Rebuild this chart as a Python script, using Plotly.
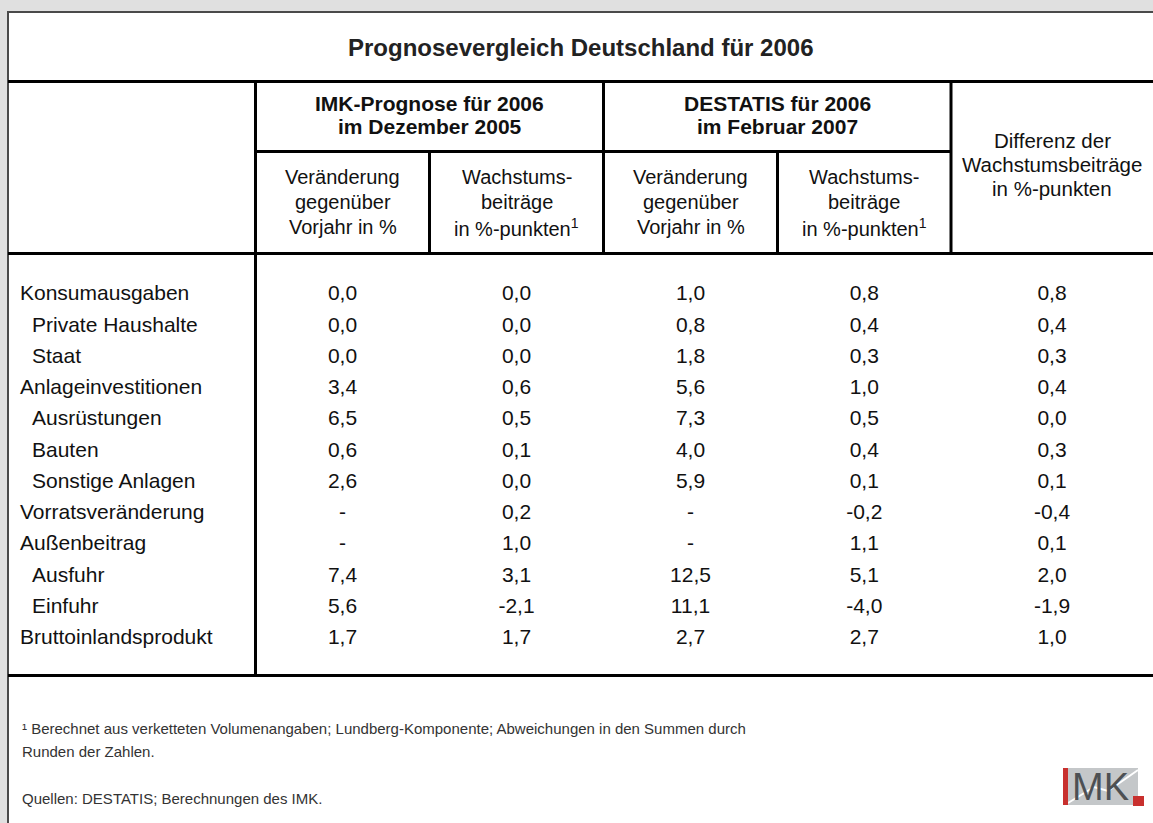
import plotly.graph_objects as go

W, H = 1153, 823

# ---- table content ----
title = "Prognosevergleich Deutschland für 2006"
group_heads = [["IMK-Prognose für 2006", "im Dezember 2005"],
               ["DESTATIS für 2006", "im Februar 2007"]]
change_head = ["Veränderung", "gegenüber", "Vorjahr in %"]
contrib_head = ["Wachstums-", "beiträge", "in %-punkten<sup>1</sup>"]
diff_head = ["Differenz der", "Wachstumsbeiträge", "in %-punkten"]

labels = ["Konsumausgaben", "Private Haushalte", "Staat", "Anlageinvestitionen",
          "Ausrüstungen", "Bauten", "Sonstige Anlagen", "Vorratsveränderung",
          "Außenbeitrag", "Ausfuhr", "Einfuhr", "Bruttoinlandsprodukt"]
indent = [0, 1, 1, 0, 1, 1, 1, 0, 0, 1, 1, 0]

imk_change = [0.0, 0.0, 0.0, 3.4, 6.5, 0.6, 2.6, None, None, 7.4, 5.6, 1.7]
imk_contrib = [0.0, 0.0, 0.0, 0.6, 0.5, 0.1, 0.0, 0.2, 1.0, 3.1, -2.1, 1.7]
destatis_change = [1.0, 0.8, 1.8, 5.6, 7.3, 4.0, 5.9, None, None, 12.5, 11.1, 2.7]
destatis_contrib = [0.8, 0.4, 0.3, 1.0, 0.5, 0.4, 0.1, -0.2, 1.1, 5.1, -4.0, 2.7]
diff_contrib = [0.8, 0.4, 0.3, 0.4, 0.0, 0.3, 0.1, -0.4, 0.1, 2.0, -1.9, 1.0]

footnote = ["¹ Berechnet aus verketteten Volumenangaben; Lundberg-Komponente; "
            "Abweichungen in den Summen durch", "Runden der Zahlen."]
source = "Quellen: DESTATIS; Berechnungen des IMK."


def fmt(v):
    # German decimal comma, dash for missing
    return "-" if v is None else f"{v:.1f}".replace(".", ",")


# ---- geometry (pixels) ----
FONT = "Liberation Sans, Arial, sans-serif"
left, top = 8, 12
y_title_line, y_group_line, y_head_line, y_foot_line = 81.5, 151.5, 253.5, 675.5
col_edges = [255.5, 429.5, 603.5, 777.5, 951, 1153]
col_mid = [(a + b) / 2 for a, b in zip(col_edges[:-1], col_edges[1:])]
row0, pitch = 295, 31.27
row_y = [row0 + i * pitch for i in range(len(labels))]

fig = go.Figure()

# row labels
fig.add_trace(go.Scatter(
    x=[20 + 12 * d for d in indent], y=row_y, mode="text", text=labels,
    textposition="middle right", textfont=dict(family=FONT, size=21, color="#111"),
    hoverinfo="skip", showlegend=False))

# value columns
columns = [imk_change, imk_contrib, destatis_change, destatis_contrib, diff_contrib]
for cx, vals in zip(col_mid, columns):
    fig.add_trace(go.Scatter(
        x=[cx] * len(vals), y=row_y, mode="text", text=[fmt(v) for v in vals],
        textposition="middle center", textfont=dict(family=FONT, size=21, color="#111"),
        hoverinfo="skip", showlegend=False))

# ---- grid lines ----
shapes = [dict(type="rect", x0=left, y0=top, x1=W + 10, y1=H + 10, layer="below",
               fillcolor="white", line=dict(color="#4a4a4a", width=2))]
blk = dict(color="black", width=3)
for y in (y_title_line, y_head_line, y_foot_line):
    shapes.append(dict(type="line", x0=left, x1=W, y0=y, y1=y, line=blk))
shapes.append(dict(type="line", x0=col_edges[0], x1=col_edges[0],
                   y0=y_title_line, y1=y_foot_line, line=blk))
for x in (col_edges[2], col_edges[4]):
    shapes.append(dict(type="line", x0=x, x1=x, y0=y_title_line, y1=y_head_line, line=blk))
shapes.append(dict(type="line", x0=col_edges[0], x1=col_edges[4],
                   y0=y_group_line, y1=y_group_line, line=blk))
for x in (col_edges[1], col_edges[3]):
    shapes.append(dict(type="line", x0=x, x1=x, y0=y_group_line, y1=y_head_line, line=blk))

# IMK logo
shapes += [
    dict(type="rect", x0=1067, x1=1138, y0=768, y1=805, fillcolor="#c4c7c9", line_width=0),
    dict(type="path", path="M 1068 803 L 1094 787 L 1108 791 L 1138 770",
         line=dict(color="white", width=2)),
    dict(type="rect", x0=1063, x1=1068, y0=768, y1=805, fillcolor="#c8302e", line_width=0),
    dict(type="rect", x0=1133, x1=1144, y0=796, y1=806, fillcolor="#c8302e", line_width=0),
]

# ---- header / footer text ----
ann = [dict(x=(left + W) / 2, y=47, text=f"<b>{title}</b>",
            font=dict(family=FONT, size=24, color="#222"))]
for cx, lines in zip((col_edges[1], col_edges[3]), group_heads):
    for y, t in zip((103, 126), lines):
        ann.append(dict(x=cx, y=y, text=f"<b>{t}</b>", font=dict(family=FONT, size=21, color="#111")))
for i, lines in enumerate([change_head, contrib_head, change_head, contrib_head]):
    for y, t in zip((177, 202, 227), lines):
        ann.append(dict(x=col_mid[i], y=y, text=t, font=dict(family=FONT, size=20, color="#111")))
for y, t in zip((140, 164, 188), diff_head):
    ann.append(dict(x=col_mid[4], y=y, text=t, font=dict(family=FONT, size=20.5, color="#111")))
for y, t in zip((728, 751), footnote):
    ann.append(dict(x=20, y=y, text=t, xanchor="left", font=dict(family=FONT, size=15, color="#333")))
ann.append(dict(x=20, y=798, text=source, xanchor="left",
                font=dict(family=FONT, size=15, color="#333")))
ann.append(dict(x=1100, y=787, text="MK",
                font=dict(family="Liberation Sans Narrow, Liberation Sans", size=38, color="#4d5053")))
for a in ann:
    a.setdefault("xanchor", "center")
    a.update(xref="x", yref="y", yanchor="middle", showarrow=False)

fig.update_layout(
    width=W, height=H, margin=dict(l=0, r=0, t=0, b=0),
    paper_bgcolor="#e0e0e0", plot_bgcolor="#e0e0e0",
    xaxis=dict(range=[0, W], visible=False, fixedrange=True),
    yaxis=dict(range=[H, 0], visible=False, fixedrange=True),
    shapes=shapes, annotations=ann, showlegend=False,
)

# drop the default page margin so the figure sits at the window origin
fig.write_html("out.html", config={"displayModeBar": False},
               post_script="document.body.style.margin='0';")
